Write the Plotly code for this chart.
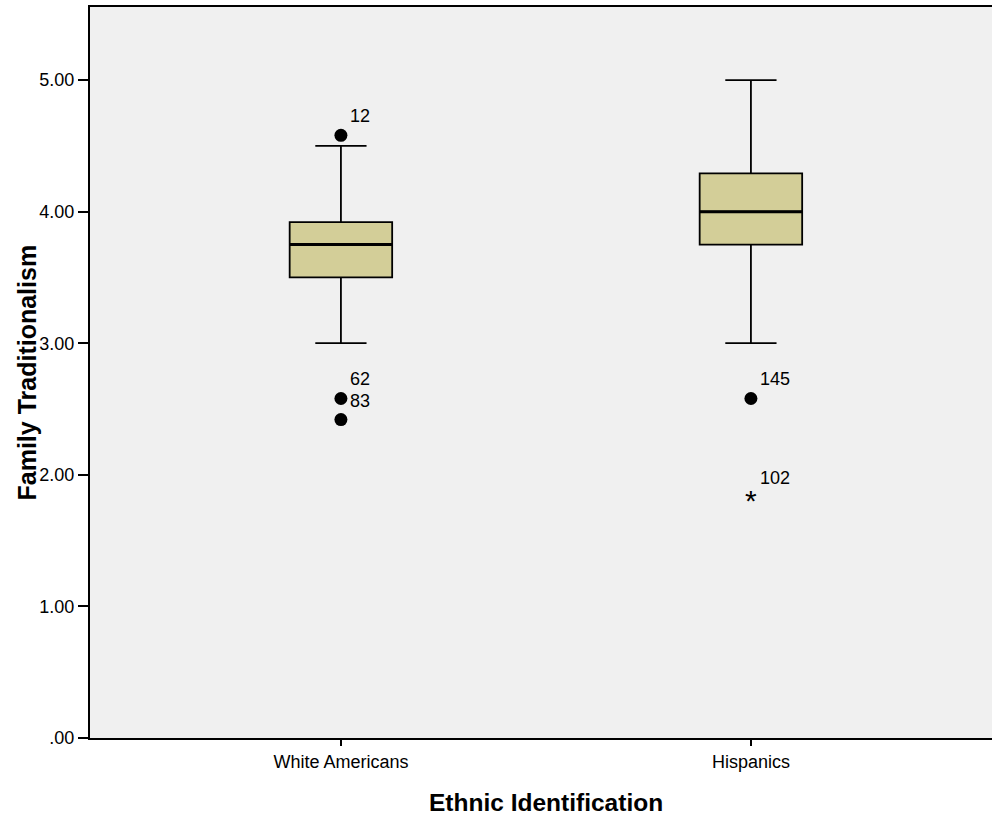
import plotly.graph_objects as go

# ---- data ----
groups = ["White Americans", "Hispanics"]
q1 = [3.50, 3.75]
median = [3.75, 4.00]
q3 = [3.92, 4.29]
lower_whisker = [3.00, 3.00]
upper_whisker = [4.50, 5.00]

outlier_group = ["White Americans", "White Americans", "White Americans", "Hispanics"]
outlier_value = [4.58, 2.58, 2.42, 2.58]
outlier_label = ["12", "62", "83", "145"]

extreme_group = ["Hispanics"]
extreme_value = [1.83]
extreme_label = ["102"]

y_ticks = [0, 1, 2, 3, 4, 5]
y_ticktext = [".00", "1.00", "2.00", "3.00", "4.00", "5.00"]

# ---- styling ----
BOX_FILL = "#d3ce98"
FONT = "Liberation Sans, Arial, sans-serif"
BOX_W = 0.25

fig = go.Figure()

fig.add_trace(go.Box(
    x=groups,
    q1=q1, median=median, q3=q3,
    lowerfence=lower_whisker, upperfence=upper_whisker,
    fillcolor=BOX_FILL,
    line=dict(color="black", width=1.8),
    whiskerwidth=0.5,
    width=BOX_W,
    boxpoints=False,
    hoverinfo="skip",
    showlegend=False,
))

# thicker median lines
for i, m in enumerate(median):
    fig.add_shape(type="line", xref="x", yref="y",
                  x0=i - BOX_W / 2, x1=i + BOX_W / 2, y0=m, y1=m,
                  line=dict(color="black", width=3))

# outliers (circles)
fig.add_trace(go.Scatter(
    x=outlier_group, y=outlier_value, mode="markers",
    marker=dict(symbol="circle", size=13, color="black"),
    showlegend=False, hoverinfo="skip",
))

# extreme values (asterisk glyph)
for g, v in zip(extreme_group, extreme_value):
    fig.add_annotation(x=g, y=v, xref="x", yref="y", text="*", showarrow=False,
                       xanchor="center", yanchor="middle", yshift=-3,
                       font=dict(family=FONT, size=30, color="black"))

for g, v, t in zip(outlier_group + extreme_group,
                   outlier_value + extreme_value,
                   outlier_label + extreme_label):
    fig.add_annotation(x=g, y=v, xref="x", yref="y", text=t, showarrow=False,
                       xanchor="left", yanchor="middle", xshift=7, yshift=19,
                       font=dict(family=FONT, size=18, color="black"))

# axis titles
fig.add_annotation(x=0, y=0.5, xref="paper", yref="paper",
                   text="<b>Family Traditionalism</b>", textangle=-90,
                   showarrow=False, xanchor="center", yanchor="middle",
                   xshift=-64, font=dict(family=FONT, size=25, color="black"))
fig.add_annotation(x=0.5055, y=0, xref="paper", yref="paper",
                   text="<b>Ethnic Identification</b>",
                   showarrow=False, xanchor="center", yanchor="middle",
                   yshift=-64, font=dict(family=FONT, size=24.5, color="black"))

fig.update_layout(
    width=992, height=819,
    margin=dict(l=90, r=0, t=7, b=81),
    paper_bgcolor="white",
    plot_bgcolor="#f0f0f0",
    font=dict(family=FONT, size=18, color="black"),
    xaxis=dict(
        type="category",
        range=[-0.612, 1.588],
        showline=True, linecolor="black", linewidth=2, mirror=True,
        ticks="outside", ticklen=6, tickwidth=2, tickcolor="black",
        showgrid=False, zeroline=False,
        tickfont=dict(family=FONT, size=18, color="black"),
    ),
    yaxis=dict(
        range=[0, 5.555],
        tickvals=y_ticks, ticktext=y_ticktext,
        showline=True, linecolor="black", linewidth=2,
        ticks="outside", ticklen=10, tickwidth=2, tickcolor="black",
        showgrid=False, zeroline=False,
        tickfont=dict(family=FONT, size=18, color="black"),
    ),
)

fig.write_html(
    "out.html",
    config={"displayModeBar": False},
    post_script="document.body.style.margin='0';document.body.style.overflow='hidden';",
)
